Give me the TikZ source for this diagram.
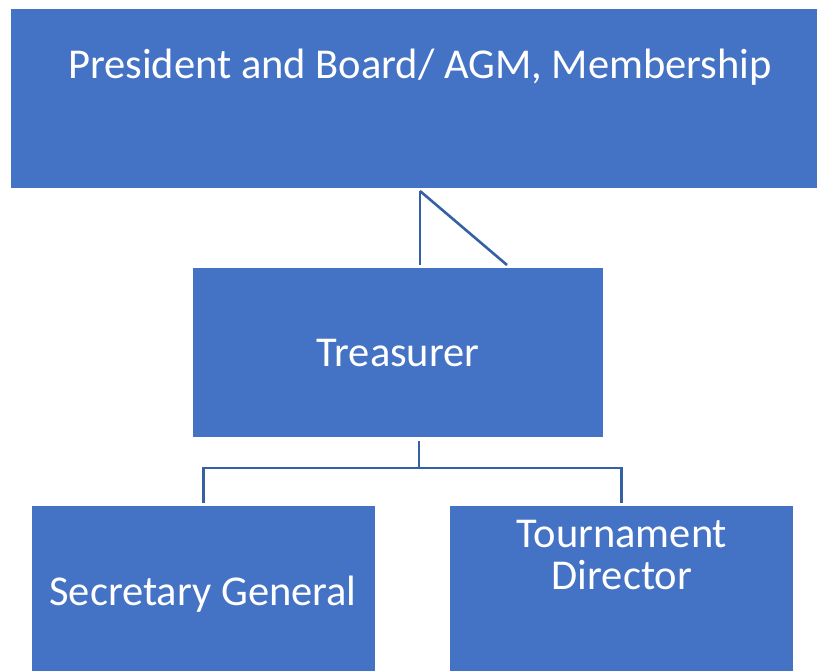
\documentclass[tikz,border=0pt]{standalone}
\usepackage{fontspec}
\setmainfont{Carlito}
\definecolor{boxblue}{HTML}{4472C4}
\definecolor{lineblue}{HTML}{3560A6}
\begin{document}
\begin{tikzpicture}[x=1pt,y=-1pt,
  orgbox/.style={draw=none,fill=boxblue,rectangle,inner sep=0pt},
  orglabel/.style={text=white,anchor=base,inner sep=0pt,font=\fontsize{42.5}{42}\selectfont,align=center},
  link/.style={draw=lineblue,line width=2.6pt,line cap=butt,line join=miter}]
\useasboundingbox (0,0) rectangle (817,671);
% boxes
\node[orgbox,minimum width=806pt,minimum height=179pt] (board) at (414,98.5) {};
\node[orgbox,minimum width=410pt,minimum height=169pt] (treas) at (398,352.5) {};
\node[orgbox,minimum width=343pt,minimum height=170pt] (sec) at (203.5,591) {};
\node[orgbox,minimum width=343pt,minimum height=170pt] (tour) at (621.5,591) {};
% labels
\node[orglabel] (boardtxt) at (420,79) {President and Board/ AGM, Membership};
\node[orglabel] (treastxt) at (398,366) {Treasurer};
\node[orglabel] (sectxt) at (203,605) {Secretary General};
\node[orglabel] (tourtxt) at (622,589) {Tournament\\Director};
% connectors
\coordinate (a1) at (420,191);
\coordinate (a2) at (420,265);
\coordinate (a3) at (507,265);
\draw[link] (a1) -- (a2);
\draw[link] (a1) -- (a3);
\coordinate (b1) at (419,441);
\coordinate (b2) at (419,468);
\coordinate (bl) at (203.5,468);
\coordinate (br) at (621.5,468);
\coordinate (bl2) at (203.5,503);
\coordinate (br2) at (621.5,503);
\draw[link] (b1) -- (b2);
\draw[link] (bl2) -- (bl) -- (br) -- (br2);
\end{tikzpicture}
\end{document}
